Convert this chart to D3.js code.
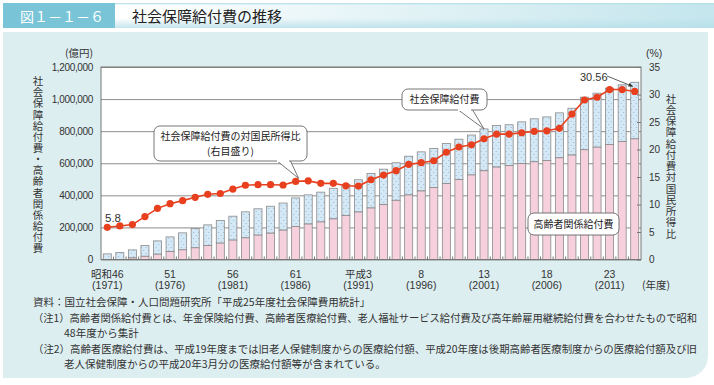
<!DOCTYPE html>
<html>
<head>
<meta charset="utf-8">
<script src="https://cdn.jsdelivr.net/npm/d3@7"></script>
<style>
  body { margin: 0; background: #fff; }
  svg { display: block; font-family: "Liberation Sans", "Noto Sans CJK JP", sans-serif; }
  .jp { font-family: "Noto Sans CJK JP", sans-serif; }
  .vert { writing-mode: vertical-rl; text-orientation: upright; }
</style>
</head>
<body>
<svg id="chart" width="714" height="385"></svg>
<script>
// ---- data (億円 / %) ----
var years = [1971, 1972, 1973, 1974, 1975, 1976, 1977, 1978, 1979, 1980,
             1981, 1982, 1983, 1984, 1985, 1986, 1987, 1988, 1989, 1990,
             1991, 1992, 1993, 1994, 1995, 1996, 1997, 1998, 1999, 2000,
             2001, 2002, 2003, 2004, 2005, 2006, 2007, 2008, 2009, 2010,
             2011, 2012, 2013];

// 社会保障給付費
var totalBenefit = [35000, 43000, 60000, 87000, 116000, 141000, 166000, 193000, 216000, 243000,
                    270000, 297000, 316000, 332000, 352000, 384000, 403000, 420000, 444000, 469000,
                    497000, 536000, 563000, 603000, 644000, 671000, 692000, 723000, 750000, 776000,
                    814000, 835000, 840000, 858000, 877000, 889000, 914000, 943000, 1012000, 1037000,
                    1068000, 1089000, 1105000];

// 高齢者関係給付費 (昭和48年度から集計)
var elderlyBenefit = [0, 0, 10000, 20000, 33000, 49000, 60000, 73000, 87000, 102000,
                      121000, 135000, 152000, 164000, 183000, 205000, 221000, 234000, 253000, 275000,
                      296000, 321000, 342000, 369000, 402000, 427000, 448000, 473000, 498000, 527000,
                      553000, 576000, 586000, 598000, 609000, 617000, 634000, 651000, 684000, 700000,
                      717000, 735000, 752000];

// 社会保障給付費の対国民所得比 (%)
var ratio = [5.85, 6.1, 6.35, 7.8, 9.3, 10.15, 10.7, 11.3, 11.85, 12.0,
             12.8, 13.5, 13.6, 13.6, 13.55, 14.2, 14.3, 13.85, 13.85, 13.4,
             13.35, 14.5, 15.35, 16.15, 17.3, 17.6, 17.95, 19.5, 20.45, 20.85,
             21.95, 22.8, 22.8, 23.05, 23.3, 23.4, 23.85, 26.45, 29.0, 29.5,
             30.9, 30.9, 30.56];

var labelYears = [1971, 1976, 1981, 1986, 1991, 1996, 2001, 2006, 2011];
var eraLabels  = ["昭和46", "51", "56", "61", "平成3", "8", "13", "18", "23"];

var leftTicks  = [0, 200000, 400000, 600000, 800000, 1000000, 1200000];
var rightTicks = [0, 5, 10, 15, 20, 25, 30, 35];

var leftTitle  = "社会保障給付費・高齢者関係給付費";
var rightTitle = "社会保障給付費対国民所得比";

var notes = [
  "資料：国立社会保障・人口問題研究所「平成25年度社会保障費用統計」",
  "（注1）高齢者関係給付費とは、年金保険給付費、高齢者医療給付費、老人福祉サービス給付費及び高年齢雇用継続給付費を合わせたもので昭和",
  "48年度から集計",
  "（注2）高齢者医療給付費は、平成19年度までは旧老人保健制度からの医療給付額、平成20年度は後期高齢者医療制度からの医療給付額及び旧",
  "老人保健制度からの平成20年3月分の医療給付額等が含まれている。"
];

// ---- layout ----
var plot = {left: 101, right: 641, top: 67, bottom: 259.5};
var svg = d3.select("#chart");
var defs = svg.append("defs");

// dotted fill for the non-elderly part
var pat = defs.append("pattern").attr("id", "dots")
    .attr("width", 5).attr("height", 6).attr("patternUnits", "userSpaceOnUse");
pat.append("rect").attr("width", 5).attr("height", 6).attr("fill", "#d5e8f5");
pat.append("circle").attr("cx", 1.2).attr("cy", 1.5).attr("r", 0.55).attr("fill", "#86b4d8");
pat.append("circle").attr("cx", 3.7).attr("cy", 4.5).attr("r", 0.55).attr("fill", "#86b4d8");

// title bar gradient
var tg = defs.append("linearGradient").attr("id", "titleGrad")
    .attr("x1", 0).attr("y1", 0).attr("x2", 0).attr("y2", 1);
tg.append("stop").attr("offset", "0").attr("stop-color", "#a9d9e4");
tg.append("stop").attr("offset", "0.08").attr("stop-color", "#ffffff");
tg.append("stop").attr("offset", "0.6").attr("stop-color", "#ffffff");
tg.append("stop").attr("offset", "1").attr("stop-color", "#c6e6ed");
var th = defs.append("linearGradient").attr("id", "titleGradH")
    .attr("x1", 0).attr("y1", 0).attr("x2", 1).attr("y2", 0);
th.append("stop").attr("offset", "0").attr("stop-color", "#b5dfe8").attr("stop-opacity", 0);
th.append("stop").attr("offset", "1").attr("stop-color", "#b5dfe8").attr("stop-opacity", 0.8);

// ---- background panel & title ----
svg.append("path")
   .attr("d", "M3,32 H708 V356 A22,22 0 0 1 686,378 H3 Z")
   .attr("fill", "#ddeef1");

svg.append("rect").attr("x", 115).attr("y", 3).attr("width", 599).attr("height", 25)
   .attr("fill", "url(#titleGrad)");
svg.append("rect").attr("x", 115).attr("y", 3).attr("width", 599).attr("height", 25)
   .attr("fill", "url(#titleGradH)");
svg.append("rect").attr("x", 3).attr("y", 3).attr("width", 112).attr("height", 25)
   .attr("fill", "#79c5d7");
svg.append("text").attr("class", "jp")
   .attr("x", 20).attr("y", 21.5)
   .attr("font-size", 14).attr("fill", "#fff")
   .text("図１－１－６");
svg.append("text").attr("class", "jp")
   .attr("x", 132).attr("y", 21.5)
   .attr("font-size", 15).attr("fill", "#222")
   .text("社会保障給付費の推移");

// ---- scales ----
var x = d3.scaleBand()
    .domain(years)
    .range([plot.left, plot.right])
    .paddingInner(0.36)
    .paddingOuter(0.18);
var y = d3.scaleLinear().domain([0, 1200000]).range([plot.bottom, plot.top]);
var yR = d3.scaleLinear().domain([0, 35]).range([plot.bottom, plot.top]);
var cx = function(yr) { return x(yr) + x.bandwidth() / 2; };

// plot background
svg.append("rect")
   .attr("x", plot.left).attr("y", plot.top)
   .attr("width", plot.right - plot.left).attr("height", plot.bottom - plot.top)
   .attr("fill", "#fff");

// left axis + gridlines
var gLeft = svg.append("g")
    .attr("transform", "translate(" + plot.left + ",0)")
    .call(d3.axisLeft(y).tickValues(leftTicks)
            .tickSize(-(plot.right - plot.left)).tickPadding(8)
            .tickFormat(d3.format(",")));
gLeft.select(".domain").remove();
gLeft.selectAll("line").attr("stroke", "#8c8c8c");
gLeft.selectAll("text").attr("font-size", 10).attr("letter-spacing", -0.35)
     .attr("fill", "#333").attr("font-family", "Liberation Sans");

// ---- bars ----
var rows = years.map(function(yr, i) {
  return {year: yr, total: totalBenefit[i], elderly: elderlyBenefit[i], ratio: ratio[i]};
});

var bars = svg.append("g").attr("class", "bars");
bars.selectAll("rect.rest")
    .data(rows).enter().append("rect").attr("class", "rest")
    .attr("x", function(d) { return x(d.year); })
    .attr("width", x.bandwidth())
    .attr("y", function(d) { return y(d.total); })
    .attr("height", function(d) { return y(d.elderly) - y(d.total); })
    .attr("fill", "url(#dots)")
    .attr("stroke", "#8a8a8a").attr("stroke-width", 0.8);
bars.selectAll("rect.eld")
    .data(rows.filter(function(d) { return d.elderly > 0; }))
    .enter().append("rect").attr("class", "eld")
    .attr("x", function(d) { return x(d.year); })
    .attr("width", x.bandwidth())
    .attr("y", function(d) { return y(d.elderly); })
    .attr("height", function(d) { return y(0) - y(d.elderly); })
    .attr("fill", "#f7d0de")
    .attr("stroke", "#8a8a8a").attr("stroke-width", 0.8);

// plot frame
svg.append("rect")
   .attr("x", plot.left).attr("y", plot.top)
   .attr("width", plot.right - plot.left).attr("height", plot.bottom - plot.top)
   .attr("fill", "none").attr("stroke", "#777").attr("stroke-width", 1);

// small ticks between categories on the x axis
svg.append("g").selectAll("line")
   .data(years.slice(1)).enter().append("line")
   .attr("x1", function(d) { return x(d) - x.step() * x.paddingInner() / 2; })
   .attr("x2", function(d) { return x(d) - x.step() * x.paddingInner() / 2; })
   .attr("y1", plot.bottom).attr("y2", plot.bottom - 3)
   .attr("stroke", "#777");

// right axis (ticks inward)
var gRight = svg.append("g")
    .attr("transform", "translate(" + plot.right + ",0)")
    .call(d3.axisRight(yR).tickValues(rightTicks).tickSize(-4).tickPadding(8));
gRight.select(".domain").remove();
gRight.selectAll("line").attr("stroke", "#777");
gRight.selectAll("text").attr("font-size", 10).attr("fill", "#333")
      .attr("font-family", "Liberation Sans");

// ---- ratio line ----
var line = d3.line()
    .x(function(d) { return cx(d.year); })
    .y(function(d) { return yR(d.ratio); });
svg.append("path").datum(rows)
   .attr("d", line)
   .attr("fill", "none").attr("stroke", "#e8401f").attr("stroke-width", 1.6);
svg.append("g").selectAll("circle")
   .data(rows).enter().append("circle")
   .attr("cx", function(d) { return cx(d.year); })
   .attr("cy", function(d) { return yR(d.ratio); })
   .attr("r", 3.6)
   .attr("fill", "#e8401f");

// ---- axis labels ----
var xl = svg.append("g").attr("font-size", 10.5).attr("fill", "#333").attr("text-anchor", "middle");
labelYears.forEach(function(yr, i) {
  xl.append("text").attr("x", cx(yr)).attr("y", 278).text(eraLabels[i]);
  xl.append("text").attr("x", cx(yr)).attr("y", 289).text("(" + yr + ")");
});
svg.append("text").attr("class", "jp").attr("x", 642).attr("y", 289)
   .attr("font-size", 10.5).attr("fill", "#333").text("(年度)");
svg.append("text").attr("class", "jp").attr("x", 93).attr("y", 57)
   .attr("text-anchor", "end").attr("font-size", 10.5).attr("fill", "#333").text("(億円)");
svg.append("text").attr("x", 646).attr("y", 57)
   .attr("font-size", 10.5).attr("fill", "#333").text("(%)");

// vertical titles (vertical writing mode, pitch set via letter-spacing)
function verticalText(str, xc, yTop, pitch) {
  svg.append("text").attr("class", "jp vert")
     .attr("x", xc).attr("y", yTop)
     .attr("font-size", 10.5).attr("fill", "#333")
     .attr("letter-spacing", pitch - 10.5)
     .text(str);
}
verticalText(leftTitle, 38, 76, 11.13);
verticalText(rightTitle, 671, 93.5, 11.25);

// ---- annotations ----
svg.append("text").attr("x", 105).attr("y", 222)
   .attr("font-size", 11.5).attr("fill", "#333").text("5.8");

function callout(bx, by, bw, bh, lines, tip, base) {
  var g = svg.append("g");
  if (tip) {
    g.append("path")
     .attr("d", "M" + base[0] + "," + (by + bh - 1) + " L" + tip[0] + "," + tip[1] +
                " L" + base[1] + "," + (by + bh - 1))
     .attr("fill", "#fff").attr("stroke", "#666").attr("stroke-width", 0.9);
  }
  g.append("rect").attr("x", bx).attr("y", by).attr("width", bw).attr("height", bh)
   .attr("rx", 6).attr("fill", "#fff").attr("stroke", "#666").attr("stroke-width", 0.9);
  if (tip) {
    g.append("rect").attr("x", base[0] + 1).attr("y", by + bh - 2)
     .attr("width", base[1] - base[0] - 2).attr("height", 3).attr("fill", "#fff");
  }
  var lh = 14.6;
  lines.forEach(function(t, i) {
    g.append("text").attr("class", "jp")
     .attr("x", bx + bw / 2)
     .attr("y", by + (bh - lines.length * lh) / 2 + 11 + i * lh)
     .attr("text-anchor", "middle").attr("font-size", 10).attr("fill", "#222")
     .text(t);
  });
}

var r1986 = rows[years.indexOf(1986)];
callout(154, 126, 153, 35, ["社会保障給付費の対国民所得比", "(右目盛り)"],
        [cx(1986) + 3, yR(r1986.ratio) - 3], [276, 290]);
var r2001 = rows[years.indexOf(2001)];
callout(402, 89, 85, 21, ["社会保障給付費"],
        [cx(2001), y(r2001.total)], [457, 472]);
callout(528, 213, 91, 22, ["高齢者関係給付費"], null, null);

// last value label with arrow
var last = rows[rows.length - 1];
svg.append("text").attr("x", 580).attr("y", 81)
   .attr("font-size", 11).attr("fill", "#333").text("30.56");
defs.append("marker").attr("id", "arrow")
    .attr("viewBox", "0 0 10 10").attr("refX", 9).attr("refY", 5)
    .attr("markerWidth", 6).attr("markerHeight", 6).attr("orient", "auto")
    .append("path").attr("d", "M0,1 L10,5 L0,9 Z").attr("fill", "#333");
svg.append("line")
   .attr("x1", 607).attr("y1", 76)
   .attr("x2", cx(last.year) - 2).attr("y2", yR(last.ratio) - 5)
   .attr("stroke", "#333").attr("stroke-width", 0.8)
   .attr("marker-end", "url(#arrow)");

// ---- footnotes ----
var fn = svg.append("g").attr("class", "jp").attr("font-size", 10.5).attr("fill", "#333");
var noteX = [33, 33, 64, 33, 64];
var noteY = [306, 322, 337, 353, 368];
var noteLen = [null, 664, null, 664, null];
notes.forEach(function(t, i) {
  var tx = fn.append("text").attr("x", noteX[i]).attr("y", noteY[i]).text(t);
  if (noteLen[i]) tx.attr("textLength", noteLen[i]).attr("lengthAdjust", "spacingAndGlyphs");
});
</script>
</body>
</html>
